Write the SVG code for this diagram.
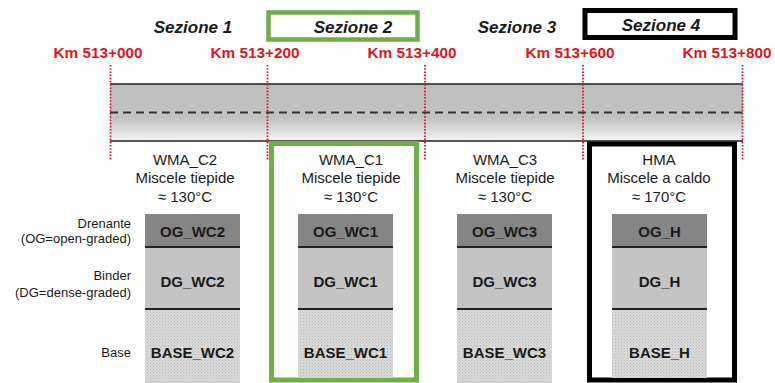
<svg xmlns="http://www.w3.org/2000/svg" width="775" height="383" viewBox="0 0 775 383">
<defs>
<linearGradient id="road" x1="0" y1="0" x2="0" y2="1">
<stop offset="0" stop-color="#bdbdbd"/>
<stop offset="0.6" stop-color="#c2c2c2"/>
<stop offset="1" stop-color="#f5f5f5"/>
</linearGradient>
<pattern id="dots" width="3" height="3" patternUnits="userSpaceOnUse">
<rect width="3" height="3" fill="#dadada"/>
<rect width="1" height="1" fill="#b8b8b8"/>
<rect x="1.5" y="1.5" width="1" height="1" fill="#c4c4c4"/>
</pattern>
<style>
.sez{font-family:"Liberation Sans",Arial,sans-serif;font-weight:bold;font-style:italic;font-size:17px;fill:#1a1a1a;text-anchor:middle}
.km{font-family:"Liberation Sans",Arial,sans-serif;font-weight:bold;font-size:15.3px;fill:#e3141b;text-anchor:middle}
.hd{font-family:"Liberation Sans",Arial,sans-serif;font-size:15px;fill:#1a1a1a;text-anchor:middle}
.ly{font-family:"Liberation Sans",Arial,sans-serif;font-weight:bold;font-size:15px;fill:#1a1a1a;text-anchor:middle}
.lab{font-family:"Liberation Sans",Arial,sans-serif;font-size:13px;fill:#1a1a1a;text-anchor:end}
.red{stroke:#e3141b;stroke-width:1.8;stroke-dasharray:1.6 1.6;fill:none}
.og{fill:#858585}
.dg{fill:#c4c4c4}
.base{fill:url(#dots)}
.sep{stroke:#222;stroke-width:2}
</style>
</defs>

<g id="road-group">
<rect x="110" y="84" width="633" height="57" fill="url(#road)"/>
<line x1="110" y1="84" x2="743" y2="84" stroke="#222" stroke-width="1.5"/>
<line x1="110" y1="141" x2="743" y2="141" stroke="#222" stroke-width="1.5"/>
<line x1="110" y1="112.5" x2="743" y2="112.5" stroke="#333" stroke-width="1.8" stroke-dasharray="8 5"/>
</g>

<g id="markers">
<line class="red" x1="110.5" y1="65" x2="110.5" y2="160"/>
<line class="red" x1="267.5" y1="65" x2="267.5" y2="160"/>
<line class="red" x1="425" y1="65" x2="425" y2="160"/>
<line class="red" x1="583" y1="65" x2="583" y2="160"/>
<line class="red" x1="742.5" y1="65" x2="742.5" y2="160"/>
<text class="km" x="98" y="58">Km 513+000</text>
<text class="km" x="255" y="58">Km 513+200</text>
<text class="km" x="412" y="58">Km 513+400</text>
<text class="km" x="570" y="58">Km 513+600</text>
<text class="km" x="727" y="58">Km 513+800</text>
</g>

<g id="sezioni">
<text class="sez" x="193" y="33">Sezione 1</text>
<rect x="268.5" y="12.5" width="149" height="27" fill="none" stroke="#70ad47" stroke-width="4.5"/>
<text class="sez" x="353" y="33">Sezione 2</text>
<text class="sez" x="517" y="33">Sezione 3</text>
<rect x="585" y="10.5" width="150" height="27" fill="none" stroke="#000" stroke-width="5"/>
<text class="sez" x="661" y="31">Sezione 4</text>
</g>

<g id="labels">
<text class="lab" x="131" y="228">Drenante</text>
<text class="lab" x="131" y="243">(OG=open-graded)</text>
<text class="lab" x="131" y="280">Binder</text>
<text class="lab" x="131" y="297">(DG=dense-graded)</text>
<text class="lab" x="131" y="357">Base</text>
</g>

<g id="col1">
<text class="hd" x="185" y="165">WMA_C2</text>
<text class="hd" x="185" y="183">Miscele tiepide</text>
<text class="hd" x="185" y="202">≈ 130°C</text>
<rect class="og" x="145" y="214" width="95" height="33"/>
<rect class="dg" x="145" y="247" width="95" height="62"/>
<rect class="base" x="145" y="309" width="95" height="74"/>
<line class="sep" x1="145" y1="247" x2="240" y2="247"/>
<line class="sep" x1="145" y1="309" x2="240" y2="309"/>
<text class="ly" x="192.5" y="237">OG_WC2</text>
<text class="ly" x="192.5" y="287">DG_WC2</text>
<text class="ly" x="192.5" y="358">BASE_WC2</text>
</g>

<g id="col2">
<rect x="271.5" y="143.5" width="145" height="236.5" fill="none" stroke="#70ad47" stroke-width="5"/>
<text class="hd" x="351" y="165">WMA_C1</text>
<text class="hd" x="351" y="183">Miscele tiepide</text>
<text class="hd" x="351" y="202">≈ 130°C</text>
<rect class="og" x="298" y="214" width="95" height="33"/>
<rect class="dg" x="298" y="247" width="95" height="62"/>
<rect class="base" x="298" y="309" width="95" height="69"/>
<line class="sep" x1="298" y1="247" x2="393" y2="247"/>
<line class="sep" x1="298" y1="309" x2="393" y2="309"/>
<text class="ly" x="345.5" y="237">OG_WC1</text>
<text class="ly" x="345.5" y="287">DG_WC1</text>
<text class="ly" x="345.5" y="358">BASE_WC1</text>
</g>

<g id="col3">
<text class="hd" x="505" y="165">WMA_C3</text>
<text class="hd" x="505" y="183">Miscele tiepide</text>
<text class="hd" x="505" y="202">≈ 130°C</text>
<rect class="og" x="457" y="214" width="95" height="33"/>
<rect class="dg" x="457" y="247" width="95" height="62"/>
<rect class="base" x="457" y="309" width="95" height="74"/>
<line class="sep" x1="457" y1="247" x2="552" y2="247"/>
<line class="sep" x1="457" y1="309" x2="552" y2="309"/>
<text class="ly" x="504.5" y="237">OG_WC3</text>
<text class="ly" x="504.5" y="287">DG_WC3</text>
<text class="ly" x="504.5" y="358">BASE_WC3</text>
</g>

<g id="col4">
<rect x="589.5" y="144" width="145" height="236" fill="none" stroke="#000" stroke-width="5"/>
<text class="hd" x="659" y="165">HMA</text>
<text class="hd" x="659" y="183">Miscele a caldo</text>
<text class="hd" x="659" y="202">≈ 170°C</text>
<rect class="og" x="612" y="214" width="95" height="33"/>
<rect class="dg" x="612" y="247" width="95" height="62"/>
<rect class="base" x="612" y="309" width="95" height="69"/>
<line class="sep" x1="612" y1="247" x2="707" y2="247"/>
<line class="sep" x1="612" y1="309" x2="707" y2="309"/>
<text class="ly" x="659.5" y="237">OG_H</text>
<text class="ly" x="659.5" y="287">DG_H</text>
<text class="ly" x="659.5" y="358">BASE_H</text>
</g>
</svg>
